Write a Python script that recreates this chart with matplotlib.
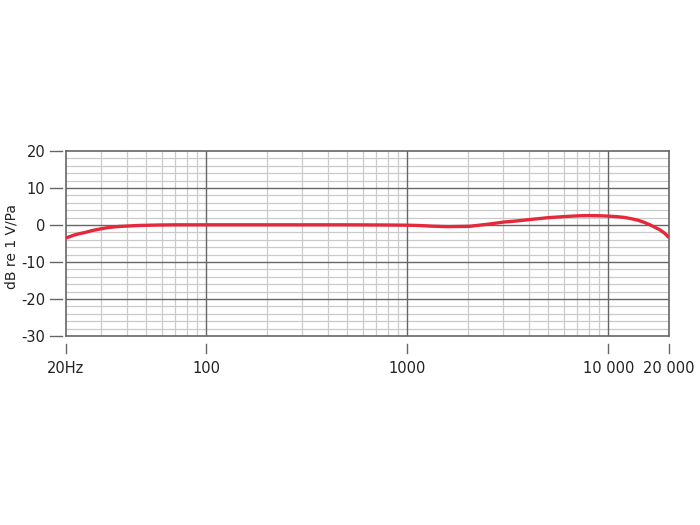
import numpy as np
import matplotlib
matplotlib.use("Agg")
import matplotlib.pyplot as plt

# ---- data ----
freq_hz = [20, 22, 23.5, 25, 27, 30, 32, 35, 37, 40, 46, 50, 58, 70, 100, 200, 500, 800,
           1000, 1160, 1300, 1580, 2040, 2500, 3020, 3500, 4100, 5050, 6130, 7200, 8000,
           9000, 10000, 11000, 12000, 13000, 14000, 15000, 16000, 17000, 18000, 19000, 20000]
level_db = [-3.5, -2.7, -2.3, -2.0, -1.5, -1.0, -0.75, -0.5, -0.38, -0.3, -0.12, -0.08, 0.0, 0.05, 0.05, 0.05, 0.05, 0.0,
            -0.05, -0.15, -0.3, -0.45, -0.35, 0.2, 0.8, 1.1, 1.5, 2.0, 2.3, 2.5, 2.55,
            2.5, 2.4, 2.25, 2.05, 1.7, 1.3, 0.75, 0.1, -0.6, -1.3, -2.2, -3.4]

x_tick_values = [20, 100, 1000, 10000, 20000]
x_tick_labels = ["20Hz", "100", "1000", "10 000", "20 000"]
y_tick_values = [20, 10, 0, -10, -20, -30]
y_tick_labels = ["20", "10", "0", "-10", "-20", "-30"]
x_major_grid = [100, 1000, 10000]
x_minor_grid = [m * d for d in (10, 100, 1000) for m in range(2, 10) if 20 < m * d < 20000]
y_major_grid = [10, 0, -10, -20]
y_minor_grid = [v for v in range(-30, 21, 2) if v % 10 != 0]
y_label = "dB re 1 V/Pa"

# ---- figure ----
plt.rcParams['font.family'] = ['DejaVu Sans']
fig = plt.figure(figsize=(7, 5.25), dpi=100)
ax = fig.add_axes([66 / 700, 1 - 336 / 525, (669 - 66) / 700, (336 - 151) / 525])
ax.set_xscale("log")
ax.set_xlim(20, 20000)
ax.set_ylim(-30, 20)

minor_col = "#cacaca"
major_col = "#666666"
for v in x_minor_grid:
    ax.axvline(v, color=minor_col, lw=0.9, zorder=1)
for v in y_minor_grid:
    ax.axhline(v, color=minor_col, lw=0.9, zorder=1)
for v in x_major_grid:
    ax.axvline(v, color=major_col, lw=1.0, zorder=2)
for v in y_major_grid:
    ax.axhline(v, color=major_col, lw=1.0, zorder=2)

ax.plot(freq_hz, level_db, color="#e5283a", lw=2.4, zorder=5, solid_capstyle="butt")

for s in ax.spines.values():
    s.set_color("#666666")
    s.set_linewidth(1.2)

ax.set_xticks(x_tick_values)
ax.set_xticklabels(x_tick_labels)
ax.set_xticks([], minor=True)
ax.set_yticks(y_tick_values)
ax.set_yticklabels(y_tick_labels)
ax.tick_params(axis="x", length=0, pad=18, labelsize=10.5, colors="#222222")
ax.tick_params(axis="y", length=0, pad=15, labelsize=10.5, colors="#222222")
fig.text(12 / 700, 1 - 246 / 525, y_label, rotation=90, ha="center", va="center",
         fontsize=10, color="#222222")

# detached tick marks (gap from the frame)
w_px = 669 - 66
h_px = 336 - 151
ytr = ax.get_yaxis_transform()
for v in y_tick_values:
    ax.plot([-16 / w_px, -4 / w_px], [v, v], transform=ytr, color="#666666",
            lw=1.0, clip_on=False)
xtr = ax.get_xaxis_transform()
for v in x_tick_values:
    ax.plot([v, v], [-8 / h_px, -17 / h_px], transform=xtr, color="#666666",
            lw=1.0, clip_on=False)

fig.savefig("out.png", dpi=100)
